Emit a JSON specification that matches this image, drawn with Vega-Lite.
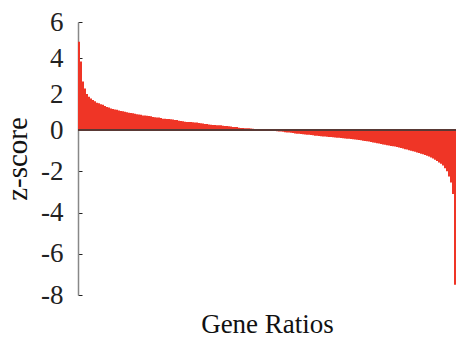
{
  "$schema": "https://vega.github.io/schema/vega-lite/v6.json",
  "autosize": "none",
  "width": 378,
  "height": 273,
  "padding": {"left": 78, "top": 22, "right": 2, "bottom": 49},
  "background": "white",
  "config": {"view": {"stroke": null}, "font": "Liberation Serif"},
  "data": {"values": [
    {"i":0,"z":4.9},{"i":1,"z":3.8},{"i":2,"z":2.7},{"i":3,"z":2.3},{"i":4,"z":2.0},{"i":5,"z":1.85},{"i":6,"z":1.75},{"i":7,"z":1.67},{"i":8,"z":1.6},{"i":9,"z":1.52},
    {"i":10,"z":1.48},{"i":11,"z":1.43},{"i":12,"z":1.4},{"i":13,"z":1.33},{"i":14,"z":1.28},{"i":15,"z":1.25},{"i":16,"z":1.2},{"i":17,"z":1.17},{"i":18,"z":1.14},{"i":19,"z":1.12},
    {"i":20,"z":1.09},{"i":21,"z":1.06},{"i":22,"z":1.04},{"i":23,"z":1.02},{"i":24,"z":0.98},{"i":25,"z":0.96},{"i":26,"z":0.95},{"i":27,"z":0.93},{"i":28,"z":0.9},{"i":29,"z":0.88},
    {"i":30,"z":0.86},{"i":31,"z":0.85},{"i":32,"z":0.81},{"i":33,"z":0.8},{"i":34,"z":0.79},{"i":35,"z":0.78},{"i":36,"z":0.76},{"i":37,"z":0.72},{"i":38,"z":0.71},{"i":39,"z":0.7},
    {"i":40,"z":0.69},{"i":41,"z":0.67},{"i":42,"z":0.63},{"i":43,"z":0.62},{"i":44,"z":0.61},{"i":45,"z":0.61},{"i":46,"z":0.6},{"i":47,"z":0.58},{"i":48,"z":0.56},{"i":49,"z":0.55},
    {"i":50,"z":0.52},{"i":51,"z":0.5},{"i":52,"z":0.49},{"i":53,"z":0.46},{"i":54,"z":0.45},{"i":55,"z":0.44},{"i":56,"z":0.44},{"i":57,"z":0.43},{"i":58,"z":0.42},{"i":59,"z":0.41},
    {"i":60,"z":0.39},{"i":61,"z":0.38},{"i":62,"z":0.36},{"i":63,"z":0.34},{"i":64,"z":0.33},{"i":65,"z":0.31},{"i":66,"z":0.29},{"i":67,"z":0.28},{"i":68,"z":0.28},{"i":69,"z":0.27},
    {"i":70,"z":0.27},{"i":71,"z":0.26},{"i":72,"z":0.23},{"i":73,"z":0.22},{"i":74,"z":0.22},{"i":75,"z":0.21},{"i":76,"z":0.2},{"i":77,"z":0.17},{"i":78,"z":0.17},{"i":79,"z":0.16},
    {"i":80,"z":0.12},{"i":81,"z":0.11},{"i":82,"z":0.11},{"i":83,"z":0.1},{"i":84,"z":0.1},{"i":85,"z":0.1},{"i":86,"z":0.09},{"i":87,"z":0.07},{"i":88,"z":0.06},{"i":89,"z":0.06},
    {"i":90,"z":0.05},{"i":91,"z":0.05},{"i":92,"z":0.03},{"i":93,"z":0.02},{"i":94,"z":0.02},{"i":95,"z":0.01},{"i":96,"z":0.01},{"i":97,"z":-0.03},{"i":98,"z":-0.05},{"i":99,"z":-0.06},
    {"i":100,"z":-0.07},{"i":101,"z":-0.07},{"i":102,"z":-0.09},{"i":103,"z":-0.11},{"i":104,"z":-0.12},{"i":105,"z":-0.12},{"i":106,"z":-0.13},{"i":107,"z":-0.15},{"i":108,"z":-0.17},{"i":109,"z":-0.18},
    {"i":110,"z":-0.18},{"i":111,"z":-0.19},{"i":112,"z":-0.2},{"i":113,"z":-0.22},{"i":114,"z":-0.23},{"i":115,"z":-0.23},{"i":116,"z":-0.24},{"i":117,"z":-0.26},{"i":118,"z":-0.28},{"i":119,"z":-0.28},
    {"i":120,"z":-0.29},{"i":121,"z":-0.3},{"i":122,"z":-0.31},{"i":123,"z":-0.32},{"i":124,"z":-0.33},{"i":125,"z":-0.34},{"i":126,"z":-0.34},{"i":127,"z":-0.35},{"i":128,"z":-0.36},{"i":129,"z":-0.37},
    {"i":130,"z":-0.38},{"i":131,"z":-0.39},{"i":132,"z":-0.4},{"i":133,"z":-0.41},{"i":134,"z":-0.42},{"i":135,"z":-0.43},{"i":136,"z":-0.44},{"i":137,"z":-0.45},{"i":138,"z":-0.46},{"i":139,"z":-0.47},
    {"i":140,"z":-0.48},{"i":141,"z":-0.5},{"i":142,"z":-0.52},{"i":143,"z":-0.53},{"i":144,"z":-0.54},{"i":145,"z":-0.56},{"i":146,"z":-0.58},{"i":147,"z":-0.6},{"i":148,"z":-0.62},{"i":149,"z":-0.64},
    {"i":150,"z":-0.66},{"i":151,"z":-0.68},{"i":152,"z":-0.7},{"i":153,"z":-0.72},{"i":154,"z":-0.74},{"i":155,"z":-0.75},{"i":156,"z":-0.77},{"i":157,"z":-0.79},{"i":158,"z":-0.8},{"i":159,"z":-0.82},
    {"i":160,"z":-0.85},{"i":161,"z":-0.87},{"i":162,"z":-0.9},{"i":163,"z":-0.93},{"i":164,"z":-0.95},{"i":165,"z":-0.98},{"i":166,"z":-1.0},{"i":167,"z":-1.03},{"i":168,"z":-1.06},{"i":169,"z":-1.09},
    {"i":170,"z":-1.12},{"i":171,"z":-1.15},{"i":172,"z":-1.18},{"i":173,"z":-1.21},{"i":174,"z":-1.25},{"i":175,"z":-1.29},{"i":176,"z":-1.33},{"i":177,"z":-1.38},{"i":178,"z":-1.44},{"i":179,"z":-1.5},
    {"i":180,"z":-1.57},{"i":181,"z":-1.64},{"i":182,"z":-1.72},{"i":183,"z":-1.85},{"i":184,"z":-2.0},{"i":185,"z":-2.25},{"i":186,"z":-2.55},{"i":187,"z":-3.1},{"i":188,"z":-7.5}
  ]},
  "layer": [
    {
      "mark": {"type": "bar", "color": "#ef3526", "strokeWidth": 0},
      "encoding": {
        "x": {"field": "i", "type": "ordinal", "sort": null,
              "scale": {"paddingInner": 0, "paddingOuter": 0},
              "axis": {"title": "Gene Ratios", "domain": false, "ticks": false, "labels": false,
                       "titleFont": "Liberation Serif", "titleFontSize": 27, "titleFontWeight": "normal",
                       "titleColor": "#111", "titlePadding": 16}},
        "y": {"field": "z", "type": "quantitative",
              "scale": {"domain": [-8, 0, 6], "range": [273, 108, 0], "nice": false, "zero": false},
              "axis": {"title": "z-score", "values": [-8, -6, -4, -2, 0, 2, 4, 6], "tickCount": 20, "grid": false,
                       "labelExpr": "'' + datum.value", "labelOverlap": false,
                       "domainColor": "#888", "domainWidth": 1.5,
                       "tickColor": "#222", "tickSize": -4, "tickWidth": 1,
                       "labelFont": "Liberation Serif", "labelFontSize": 27, "labelColor": "#222",
                       "labelPadding": 19,
                       "titleFont": "Liberation Serif", "titleFontSize": 29, "titleFontWeight": "normal",
                       "titleColor": "#111", "titlePadding": 8}}
      }
    },
    {
      "mark": {"type": "rule", "color": "#5a3a36", "strokeWidth": 1.5},
      "encoding": {"y": {"datum": 0}}
    }
  ]
}
